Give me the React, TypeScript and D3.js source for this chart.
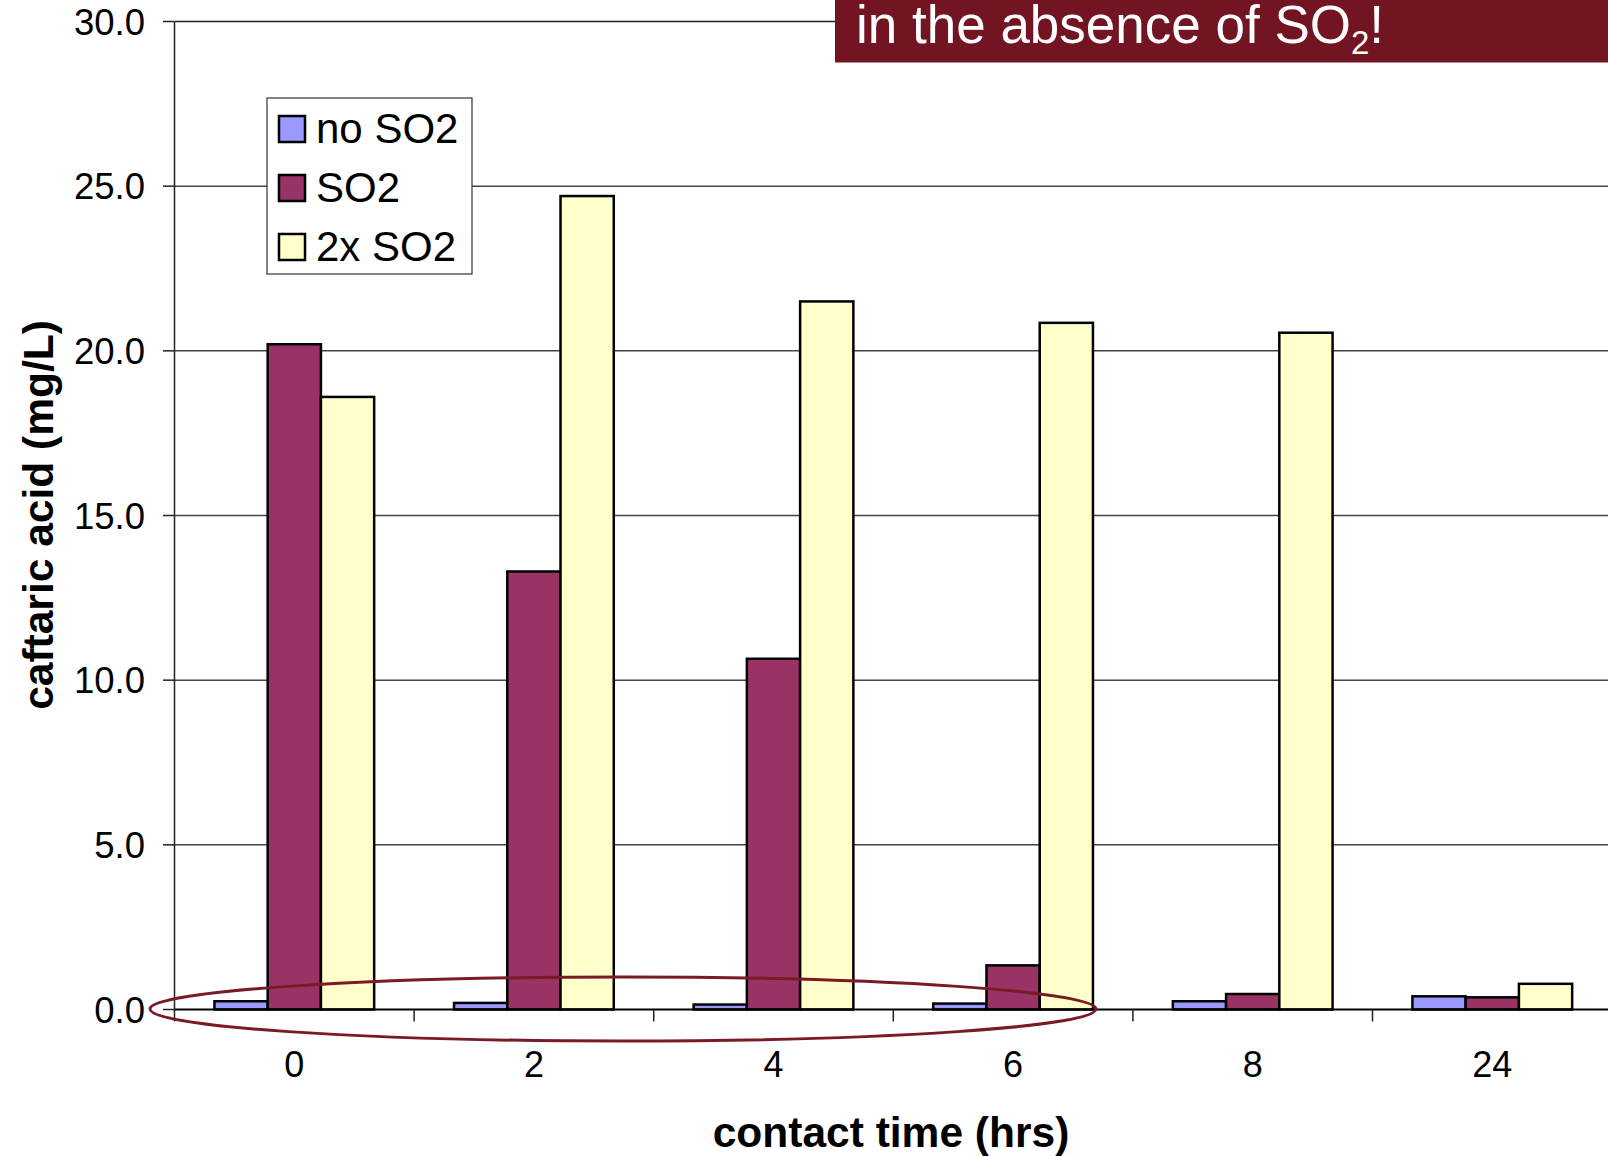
import React from "react";
import * as d3 from "d3";

const categories = ["0", "2", "4", "6", "8", "24"];
const seriesNames = ["no SO2", "SO2", "2x SO2"];
const noSO2 = [0.25, 0.2, 0.15, 0.18, 0.25, 0.4];
const SO2 = [20.2, 13.3, 10.65, 1.34, 0.47, 0.37];
const twoXSO2 = [18.6, 24.7, 21.5, 20.85, 20.55, 0.78];
const yTicks = [0, 5, 10, 15, 20, 25, 30];
const colors = ["#9999FF", "#993366", "#FFFFCC"];

const W = 1608;
const H = 1156;
const FONT = "'Liberation Sans', Arial, Helvetica, sans-serif";

export default function App() {
  const left = 174.5;
  const band = 239.6;
  const x = d3
    .scaleBand<string>()
    .domain(categories)
    .range([left, left + band * categories.length])
    .paddingInner(0)
    .paddingOuter(0);
  const y = d3.scaleLinear().domain([0, 30]).range([1009.5, 21.5]);
  const barW = band / 4.5;
  const groupOffset = (band - 3 * barW) / 2;
  const series = [noSO2, SO2, twoXSO2];
  const plotRight = W;

  return (
    <svg
      width={W}
      height={H}
      style={{ position: "absolute", left: 0, top: 0, background: "#fff" }}
      fontFamily={FONT}
    >
      {/* gridlines */}
      {yTicks.slice(1).map((t) => (
        <line
          key={"g" + t}
          x1={left}
          x2={plotRight}
          y1={y(t)}
          y2={y(t)}
          stroke={t === 30 ? "#222" : "#444"}
          strokeWidth={1.5}
        />
      ))}
      {/* y ticks & labels */}
      {yTicks.map((t) => (
        <g key={"yt" + t}>
          <line x1={163} x2={left} y1={y(t)} y2={y(t)} stroke="#222" strokeWidth={1.5} />
          <text
            x={145}
            y={y(t)}
            dy="0.36em"
            textAnchor="end"
            fontSize={36.5}
            fill="#000"
          >
            {t.toFixed(1)}
          </text>
        </g>
      ))}
      {/* bars */}
      {series.map((vals, si) =>
        vals.map((v, ci) => {
          const bx = (x(categories[ci]) as number) + groupOffset + si * barW;
          return (
            <rect
              key={`b${si}-${ci}`}
              x={bx}
              y={y(v)}
              width={barW}
              height={y(0) - y(v)}
              fill={colors[si]}
              stroke="#000"
              strokeWidth={2.5}
            />
          );
        })
      )}
      {/* axes */}
      <line x1={left} x2={left} y1={y(30)} y2={y(0)} stroke="#222" strokeWidth={1.5} />
      <line x1={left} x2={plotRight} y1={y(0)} y2={y(0)} stroke="#000" strokeWidth={2} />
      {categories.map((c, i) => (
        <line
          key={"xt" + c}
          x1={left + i * band}
          x2={left + i * band}
          y1={y(0)}
          y2={y(0) + 12}
          stroke="#222"
          strokeWidth={1.5}
        />
      ))}
      {categories.map((c) => (
        <text
          key={"xl" + c}
          x={(x(c) as number) + band / 2}
          y={1077}
          textAnchor="middle"
          fontSize={36}
          fill="#000"
        >
          {c}
        </text>
      ))}
      {/* axis titles */}
      <text x={891} y={1147} textAnchor="middle" fontSize={42.5} fontWeight="bold" fill="#000">
        contact time (hrs)
      </text>
      <text
        transform="translate(53,515) rotate(-90)"
        textAnchor="middle"
        fontSize={42.5}
        fontWeight="bold"
        fill="#000"
      >
        caftaric acid (mg/L)
      </text>
      {/* legend */}
      <rect x={267} y={98} width={205} height={176} fill="#fff" stroke="#333" strokeWidth={1.2} />
      {seriesNames.map((n, i) => (
        <g key={"lg" + n}>
          <rect
            x={279}
            y={116 + i * 59}
            width={26}
            height={26}
            fill={colors[i]}
            stroke="#000"
            strokeWidth={2.5}
          />
          <text x={316} y={143 + i * 59} fontSize={42} fill="#000">
            {n}
          </text>
        </g>
      ))}
      {/* highlight ellipse */}
      <ellipse cx={623} cy={1009} rx={473} ry={32} fill="none" stroke="#7a1a24" strokeWidth={3} />
      {/* banner */}
      <rect x={835} y={0} width={W - 835} height={62.5} fill="#731422" />
      <text x={856} y={43} fontSize={53} fill="#fff">
        in the absence of SO
        <tspan fontSize={33} dy={11}>2</tspan>
        <tspan dy={-11}>!</tspan>
      </text>
    </svg>
  );
}
